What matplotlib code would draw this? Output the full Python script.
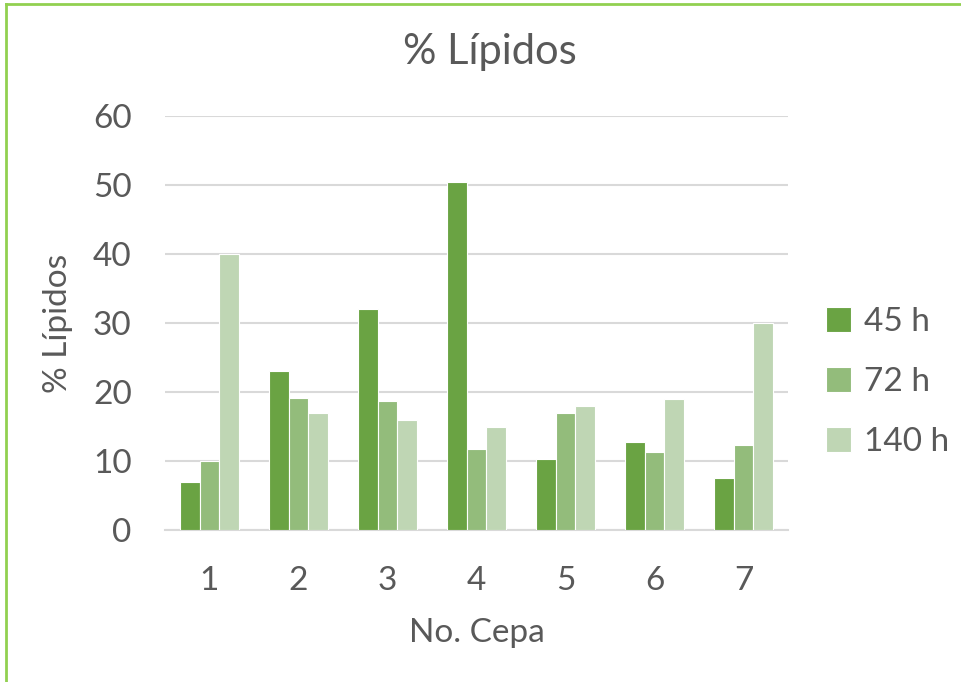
import numpy as np
import matplotlib
matplotlib.use("Agg")
import matplotlib.pyplot as plt
from matplotlib.lines import Line2D

plt.rcParams["font.family"] = ["Lato", "DejaVu Sans"]

# data
cepas = ["1", "2", "3", "4", "5", "6", "7"]
h45 = [7.0, 23.1, 32.0, 50.5, 10.3, 12.7, 7.5]
h72 = [10.0, 19.2, 18.7, 11.8, 17.0, 11.3, 12.3]
h140 = [40.0, 17.0, 16.0, 15.0, 18.0, 19.0, 30.0]
series_names = ["45 h", "72 h", "140 h"]
colors = ["#6AA343", "#93BC7B", "#BFD6B4"]

txt = "#595959"
grid_c = "#D9D9D9"

fig = plt.figure(figsize=(9.61, 6.82), dpi=100)
ax = fig.add_axes([165 / 961, 1 - 530 / 682, 623 / 961, 414 / 682])

x = np.arange(1, len(cepas) + 1)
w = 0.22
for i, (vals, name) in enumerate(zip([h45, h72, h140], series_names)):
    ax.bar(x + (i - 1) * w, vals, width=w, color=colors[i], edgecolor="white",
           linewidth=0.8, label=name, zorder=3)

ax.set_xlim(0.5, 7.5)
ax.set_ylim(0, 60)
ax.set_yticks(range(0, 61, 10))
ax.set_xticks(x)
ax.set_xticklabels(cepas)
ax.yaxis.grid(True, color=grid_c, linewidth=1.5, zorder=0)
for s in ["top", "right", "left"]:
    ax.spines[s].set_visible(False)
ax.spines["bottom"].set_color(grid_c)
ax.spines["bottom"].set_linewidth(1.5)
ax.tick_params(length=0, labelsize=24, labelcolor=txt)
ax.tick_params(axis="y", pad=24)
ax.tick_params(axis="x", pad=26)

ax.set_xlabel("No. Cepa", fontsize=24, color=txt, labelpad=16)
ax.set_ylabel("% Lípidos", fontsize=24, color=txt, labelpad=14)
fig.text(490 / 961, 1 - 52 / 682, "% Lípidos", fontsize=30, color=txt,
         ha="center", va="center")

leg = fig.legend(loc="center left", bbox_to_anchor=(826 / 961, 1 - 382 / 682),
                 frameon=False, fontsize=24, handlelength=0.75, handleheight=0.75,
                 handletextpad=0.4, labelspacing=0.9, borderaxespad=0,
                 borderpad=0)
for t in leg.get_texts():
    t.set_color(txt)

# green frame (only left and top edges are visible)
fig.add_artist(Line2D([6 / 961, 6 / 961], [0, 1 - 4 / 682], color="#92D050",
                      linewidth=2, transform=fig.transFigure))
fig.add_artist(Line2D([6 / 961, 1], [1 - 4 / 682, 1 - 4 / 682], color="#92D050",
                      linewidth=2, transform=fig.transFigure))

fig.savefig("out.png", dpi=100)
